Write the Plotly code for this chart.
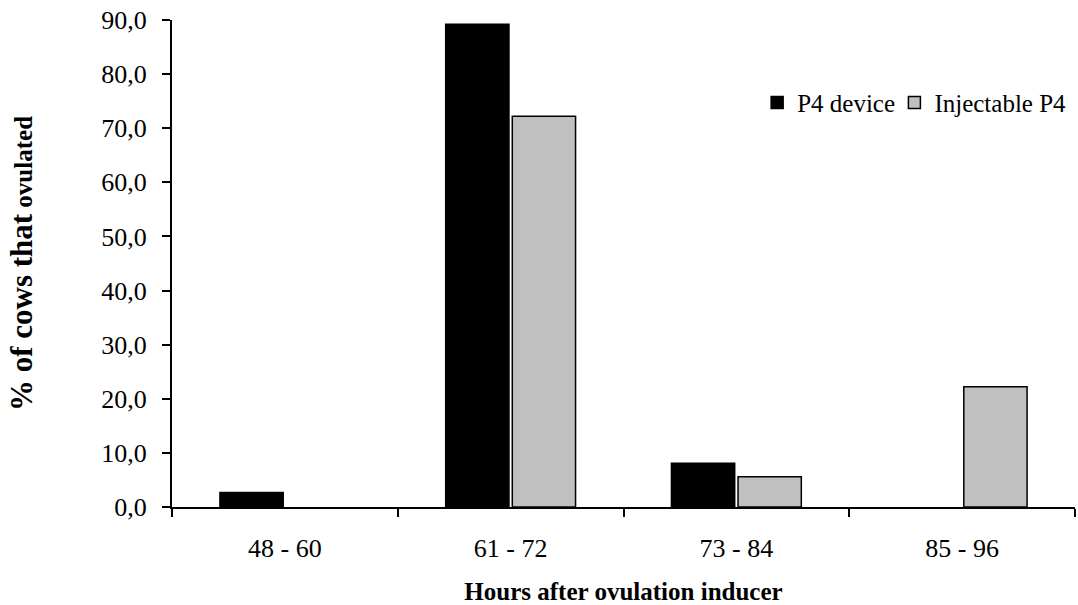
import plotly.graph_objects as go

categories = ["48 - 60", "61 - 72", "73 - 84", "85 - 96"]
p4_device = [2.7, 89.2, 8.1, 0.0]
injectable_p4 = [0.0, 72.2, 5.6, 22.2]
y_ticks = [0, 10, 20, 30, 40, 50, 60, 70, 80, 90]

FONT = "Liberation Serif, Times New Roman, serif"


def drawn(values):
    # a 0 % class has no visible bar in the reference
    return [v if v != 0 else None for v in values]


fig = go.Figure()
fig.add_trace(go.Bar(
    x=categories, y=drawn(p4_device), name="P4 device", legend="legend",
    marker=dict(color="#000000", line=dict(color="#000000", width=1.5)),
))
fig.add_trace(go.Bar(
    x=categories, y=drawn(injectable_p4), name="Injectable P4", legend="legend2",
    marker=dict(color="#C0C0C0", line=dict(color="#000000", width=1.5)),
))

legend_style = dict(
    orientation="h", yanchor="middle", y=0.83, xanchor="left",
    font=dict(family=FONT, size=25), bgcolor="rgba(0,0,0,0)",
    itemwidth=30, borderwidth=0,
)

fig.update_layout(
    width=1078, height=605,
    paper_bgcolor="white", plot_bgcolor="white",
    barmode="group", bargap=0.41, bargroupgap=0.05,
    separators=",.",
    font=dict(family=FONT, size=26, color="black"),
    margin=dict(l=172, r=3, t=20, b=98),
    legend=dict(legend_style, x=0.648),
    legend2=dict(legend_style, x=0.8),
    showlegend=True,
)
fig.update_xaxes(
    showline=True, linecolor="black", linewidth=2,
    ticks="outside", tickson="boundaries", ticklen=8, tickwidth=2, tickcolor="black",
    ticklabelstandoff=17, automargin=False,
    showgrid=False, zeroline=False,
    title=dict(text="<b>Hours after ovulation inducer</b>", font=dict(family=FONT, size=25), standoff=20),
)
fig.update_yaxes(
    range=[0, 90], tickvals=y_ticks, tickformat=".1f",
    showline=True, linecolor="black", linewidth=2,
    ticks="outside", ticklen=8, tickwidth=2, tickcolor="black",
    ticklabelstandoff=10, automargin=False,
    showgrid=False, zeroline=False,
    title=dict(text="<b><span style='font-size:31px'>% of cows that</span> ovulated</b>",
               font=dict(family=FONT, size=25), standoff=62),
)

fig.write_html("out.html", config={"displayModeBar": False},
               post_script="document.body.style.margin='0';")
